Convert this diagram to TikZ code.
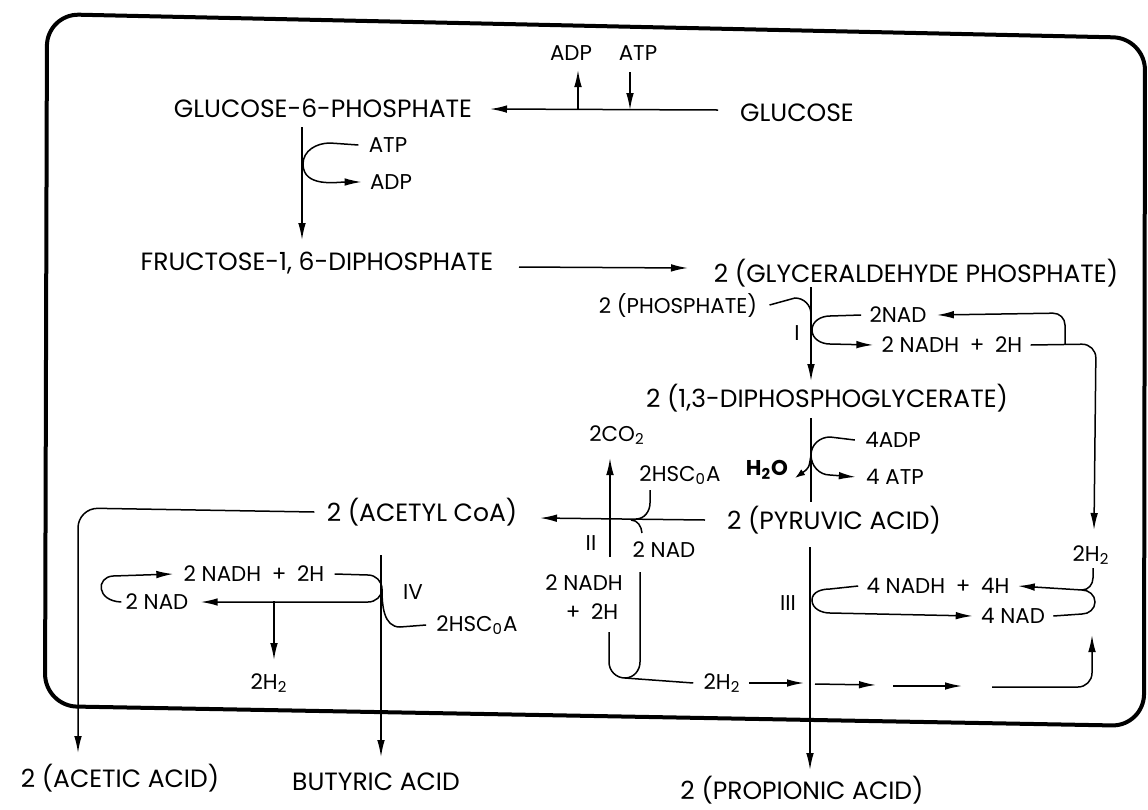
\documentclass[tikz,border=0pt]{standalone}
\usepackage{fontspec}
\setmainfont{Poppins}
\usetikzlibrary{arrows.meta}
\begin{document}
\begin{tikzpicture}[x=0.5pt,y=-0.5pt,
  lbl/.style={inner sep=0pt, font=\fontsize{12.5}{14}\selectfont},
  sm/.style={inner sep=0pt, font=\fontsize{10.7}{12}\selectfont},
  ln/.style={line width=0.75pt},
  arr/.style={ln,-{Latex[length=8.5pt,width=3.8pt]}},
  sarr/.style={ln,-{Latex[length=5pt,width=3.5pt]}},
  frame/.style={line width=2pt, rounded corners=16pt}]
\useasboundingbox (0,0) rectangle (1148,810);
% frame
\draw[frame] (47,14) -- (1145,38) -- (1144,726) -- (45,706) -- cycle;

% top: glucose
\node[lbl] (g6p) at (323,108) {GLUCOSE-6-PHOSPHATE};
\node[lbl] (glc) at (797,113) {GLUCOSE};
\node[sm] (adp1) at (571,53) {ADP};
\node[sm] (atp1) at (638,53) {ATP};
\coordinate (ga) at (718,110);
\coordinate (gb) at (490,109);
\coordinate (gadp) at (578,109);
\coordinate (gadpt) at (578,70);
\coordinate (gatp) at (630,110);
\coordinate (gatpt) at (630,72);
\draw[arr] (ga) -- (gb);
\draw[arr] (gadp) -- (gadpt);
\draw[arr] (gatpt) -- (gatp);

% g6p -> f16dp
\node[sm] (atp2) at (388,145) {ATP};
\node[sm] (adp2) at (391,182) {ADP};
\node[lbl] (fdp) at (317,263) {FRUCTOSE-1, 6-DIPHOSPHATE};
\coordinate (v1a) at (302,127);
\coordinate (v1b) at (302,240);
\draw[arr] (v1a) -- (v1b);
\coordinate (c1) at (303,164);
\draw[arr] ([xshift=-5pt]atp2.west) -- (330,143) to[out=180,in=90] (c1) to[out=-90,in=180] ([xshift=-4pt]adp2.west);

% f16dp -> GAP
\node[lbl] (gap) at (916,273) {2 (GLYCERALDEHYDE PHOSPHATE)};
\coordinate (fa) at (519,267);
\coordinate (fb) at (688,268);
\draw[arr] (fa) -- (fb);

% step I
\node[sm] (phos) at (678,305) {2 (PHOSPHATE)};
\node[sm] (r1) at (797,333) {I};
\node[sm] (nad1) at (898,315) {2NAD};
\node[sm] (nadh1) at (952,345) {2 NADH\enspace+\enspace2H};
\node[lbl] (dpg) at (827,398) {2 (1,3-DIPHOSPHOGLYCERATE)};
\coordinate (v2a) at (811,287);
\coordinate (v2b) at (811,381);
\draw[arr] (v2a) -- (v2b);
\draw[ln] ([xshift=6pt]phos.east) -- (795,298) to[out=0,in=90] (811,314);
\coordinate (c2) at (812,330);
\draw[arr] ([xshift=-4pt]nad1.west) -- (830,316) to[out=180,in=90] (c2) to[out=-90,in=180] (830,344) -- ([xshift=-4pt]nadh1.west);
% right loop
\coordinate (rj) at (1065,344);
\coordinate (rc) at (1096,344);
\coordinate (rd) at (1094,530);
\node[sm] (h2r) at (1091,555) {2H\textsubscript{2}};
\draw[arr, rounded corners=7pt] ([xshift=4pt]nadh1.east) -- (rc) -- (rd);
\draw[arr, rounded corners=6pt] (rj) -- (1065,313) -- ([xshift=5pt]nad1.east);

% step to pyruvate
\node[sm] (adp4) at (893,440) {4ADP};
\node[sm] (atp4) at (895,477) {4 ATP};
\node[sm, font=\fontsize{10.7}{12}\selectfont\bfseries] (h2o) at (767,470) {H\textsubscript{2}O};
\node[lbl] (pyr) at (834,520) {2 (PYRUVIC ACID)};
\coordinate (v3a) at (811,418);
\coordinate (v3b) at (811,502);
\draw[ln] (v3a) -- (v3b);
\coordinate (c3) at (811,455);
\coordinate (h2ot) at (795,478);
\draw[arr] ([xshift=-5pt]adp4.west) -- (830,437) to[out=180,in=90] (c3) to[out=-90,in=180] (830,475) -- ([xshift=-5pt]atp4.west);
\draw[sarr] (c3) .. controls (809,468) .. (h2ot);

% step II
\node[lbl] (acoa) at (422,512) {2 (ACETYL CoA)};
\node[sm] (co2) at (617,435) {2CO\textsubscript{2}};
\node[sm] (hsc1) at (680,475) {2HSC\textsubscript{0}A};
\node[sm] (r2) at (591,543) {II};
\node[sm] (nad2) at (664,550) {2 NAD};
\node[sm] (nadh2a) at (584,583) {2 NADH};
\node[sm] (nadh2b) at (592,612) {+\enspace2H};
\coordinate (pa) at (705,520);
\coordinate (pb) at (540,518);
\draw[arr] (pa) -- (pb);
\coordinate (v4a) at (610,557);
\coordinate (v4b) at (610,458);
\draw[arr] (v4a) -- (v4b);
\draw[ln] (650,490) -- (650,503) to[out=-90,in=0] (636,519);
\draw[ln] (631,520) to[out=0,in=95] (642,533);
% U and H2 line
\coordinate (ub) at (625,678);
\draw[ln] (640,572) -- (640,662) to[out=-90,in=0] (ub) to[out=180,in=-90] (609,662) -- (609,632);
\node[sm] (h2b) at (722,683) {2H\textsubscript{2}};
\draw[ln] (ub) -- ([xshift=-5pt]h2b.west);
\draw[arr] ([xshift=4pt]h2b.east) -- (804,683);
\draw[arr] (815,684) -- (876,685);
\draw[arr] (893,686) -- (962,686);
\draw[arr, rounded corners=7pt] (992,687) -- (1092,687) -- (1092,635);

% step III
\node[sm] (r3) at (788,603) {III};
\node[sm] (nadh4) at (938,586) {4 NADH\enspace+\enspace4H};
\node[sm] (nad4) at (1013,616) {4 NAD};
\node[lbl] (prop) at (802,790) {2 (PROPIONIC ACID)};
\coordinate (v5a) at (810,547);
\coordinate (v5b) at (810,770);
\draw[arr] (v5a) -- (v5b);
\coordinate (c5) at (812,600);
\draw[arr] ([xshift=-4pt]nadh4.west) -- (830,589) to[out=180,in=90] (c5) to[out=-90,in=180] (830,613) -- ([xshift=-4pt]nad4.west);
\coordinate (bj) at (1082,590);
\coordinate (bt) at (1093,568);
\draw[arr] (bt) -- (1093,578) to[out=-90,in=0] (bj) -- ([xshift=4pt]nadh4.east);
\draw[ln] (bj) to[out=0,in=90] (1095,602) to[out=-90,in=0] (1082,614) -- ([xshift=4pt]nad4.east);

% step IV
\node[sm] (nadh5) at (254,574) {2 NADH\enspace+\enspace2H};
\node[sm] (nad5) at (157,602) {2 NAD};
\node[sm] (h2l) at (269,683) {2H\textsubscript{2}};
\node[sm] (r4) at (413,592) {IV};
\node[sm] (hsc2) at (477,625) {2HSC\textsubscript{0}A};
\node[lbl] (but) at (376,782) {BUTYRIC ACID};
\node[lbl] (acet) at (120,778) {2 (ACETIC ACID)};
\draw[arr] ([xshift=-2pt]nad5.west) .. controls (96,601) and (96,577) .. (113,576) -- ([xshift=-5pt]nadh5.west);
\coordinate (c6) at (382,589);
\coordinate (br) at (274,601);
\coordinate (brb) at (274,660);
\draw[arr] ([xshift=5pt]nadh5.east) -- (368,575) to[out=0,in=90] (c6) to[out=-90,in=0] (368,602) -- ([xshift=6pt]nad5.east);
\draw[arr] (br) -- (brb);
\draw[ln] (c6) to[out=-90,in=180] (400,627) -- ([xshift=-5pt]hsc2.west);
\coordinate (v6a) at (381,555);
\coordinate (v6b) at (381,757);
\draw[arr] (v6a) -- (v6b);
\coordinate (ac1) at (78,508);
\coordinate (ac2) at (78,753);
\draw[arr, rounded corners=10pt] ([xshift=-6pt]acoa.west) -- (ac1) -- (ac2);
\end{tikzpicture}
\end{document}
